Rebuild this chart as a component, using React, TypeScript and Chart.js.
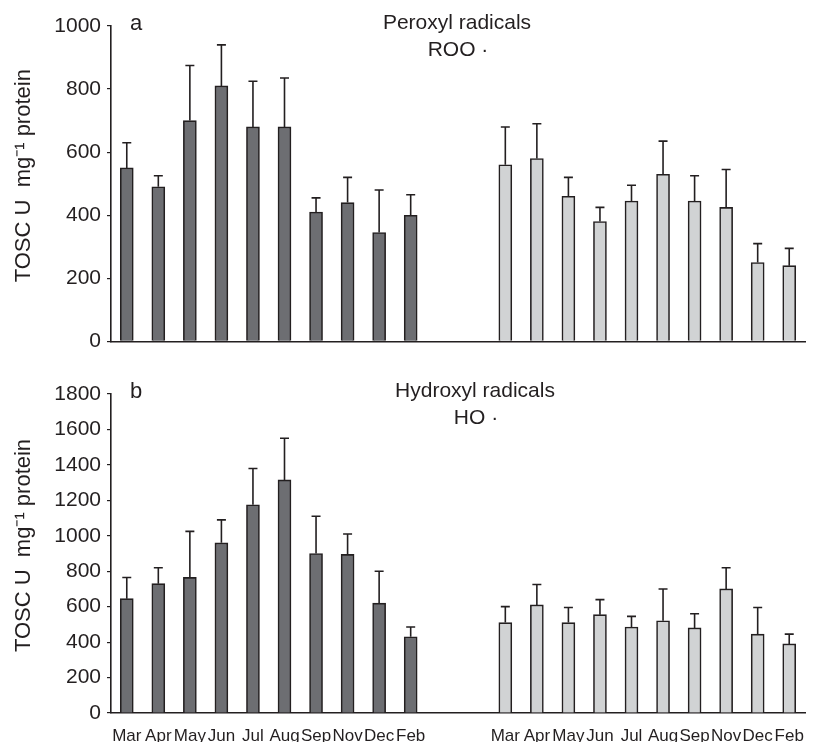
import React, { useEffect, useRef } from 'react';
import { Chart, registerables } from 'chart.js';

Chart.register(...registerables);

// ---- data ----
const MONTHS = ['Mar', 'Apr', 'May', 'Jun', 'Jul', 'Aug', 'Sep', 'Nov', 'Dec', 'Feb'];
const GAP = ['', ''];
const LABELS = [...MONTHS, ...GAP, ...MONTHS];

// Panel a: peroxyl radicals (ROO·)
const ROO_DARK = [550, 490, 700, 810, 680, 680, 410, 440, 345, 400];
const ROO_DARK_SD = [80, 35, 175, 130, 145, 155, 45, 80, 135, 65];
const ROO_LIGHT = [560, 580, 460, 380, 445, 530, 445, 425, 250, 240];
const ROO_LIGHT_SD = [120, 110, 60, 45, 50, 105, 80, 120, 60, 55];

// Panel b: hydroxyl radicals (HO·)
const HO_DARK = [645, 730, 765, 960, 1175, 1315, 900, 895, 620, 430];
const HO_DARK_SD = [120, 90, 260, 130, 205, 235, 210, 115, 180, 55];
const HO_LIGHT = [510, 610, 510, 555, 485, 520, 480, 700, 445, 390];
const HO_LIGHT_SD = [90, 115, 85, 85, 60, 180, 80, 120, 150, 55];

const Y_TITLE = 'TOSC U  mg\u207B\u00B9 protein';

const INK = '#231f20';
const DARK = '#6d6e72';
const LIGHT = '#d1d3d4';
const FONT = '"Liberation Sans", Arial, Helvetica, sans-serif';

const nulls = (n: number) => Array(n).fill(null);

const errorBarPlugin = {
  id: 'errorBars',
  afterDatasetsDraw(chart: any) {
    const ctx = chart.ctx;
    const yScale = chart.scales.y;
    ctx.save();
    ctx.strokeStyle = INK;
    ctx.lineWidth = 1.6;
    chart.data.datasets.forEach((ds: any, di: number) => {
      const meta = chart.getDatasetMeta(di);
      meta.data.forEach((el: any, i: number) => {
        const v = ds.data[i];
        const e = ds.errors ? ds.errors[i] : null;
        if (v == null || e == null) return;
        const yTop = yScale.getPixelForValue(v + e);
        const x = el.x;
        ctx.beginPath();
        ctx.moveTo(x, el.y);
        ctx.lineTo(x, yTop);
        ctx.moveTo(x - 4.5, yTop);
        ctx.lineTo(x + 4.5, yTop);
        ctx.stroke();
      });
    });
    ctx.restore();
  },
};

const annotPlugin = {
  id: 'annot',
  afterDraw(chart: any, _args: any, opts: any) {
    const { ctx, chartArea } = chart;
    ctx.save();
    ctx.fillStyle = INK;
    ctx.textBaseline = 'middle';
    ctx.font = `22px ${FONT}`;
    ctx.textAlign = 'center';
    ctx.fillText(opts.letter, chartArea.left + 25, chartArea.top - 2);
    ctx.font = `21px ${FONT}`;
    ctx.fillText(opts.line1, chartArea.left + opts.titleDx, chartArea.top - 3);
    ctx.fillText(opts.line2, chartArea.left + opts.titleDx + 1, chartArea.top + 24);
    // y-axis title
    ctx.translate(24, (chartArea.top + chartArea.bottom) / 2 - 8);
    ctx.rotate(-Math.PI / 2);
    ctx.font = `22px ${FONT}`;
    ctx.fillText(Y_TITLE, 0, 0);
    ctx.restore();
  },
};

type PanelProps = {
  height: number;
  dark: number[];
  darkSd: number[];
  light: number[];
  lightSd: number[];
  yMax: number;
  showX: boolean;
  padTop: number;
  letter: string;
  line1: string;
  line2: string;
  titleDx: number;
};

function Panel(p: PanelProps) {
  const ref = useRef<HTMLCanvasElement | null>(null);
  useEffect(() => {
    if (!ref.current) return;
    const chart = new Chart(ref.current, {
      type: 'bar',
      data: {
        labels: LABELS,
        datasets: [
          {
            data: [...p.dark, ...nulls(12)],
            errors: [...p.darkSd, ...nulls(12)],
            backgroundColor: DARK,
            borderColor: INK,
            borderWidth: 1.6,
            grouped: false,
            barThickness: 13,
          } as any,
          {
            data: [...nulls(12), ...p.light],
            errors: [...nulls(12), ...p.lightSd],
            backgroundColor: LIGHT,
            borderColor: INK,
            borderWidth: 1.6,
            grouped: false,
            barThickness: 13,
          } as any,
        ],
      },
      options: {
        responsive: false,
        animation: false,
        devicePixelRatio: 1,
        layout: { padding: { top: p.padTop, right: 25, left: 0, bottom: 0 } },
        plugins: {
          legend: { display: false },
          tooltip: { enabled: false },
          annot: { letter: p.letter, line1: p.line1, line2: p.line2, titleDx: p.titleDx },
        } as any,
        scales: {
          x: {
            grid: { display: false },
            border: { display: true, color: INK, width: 1.6 },
            ticks: {
              display: p.showX,
              color: INK,
              font: { family: FONT, size: 17 },
              padding: 5,
              maxRotation: 0,
              autoSkip: false,
            },
            afterFit: (s: any) => {
              s.height = p.showX ? 29 : 10;
            },
          },
          y: {
            min: 0,
            max: p.yMax,
            grid: {
              display: true,
              drawOnChartArea: false,
              drawTicks: true,
              tickLength: 4,
              color: INK,
              lineWidth: 1.2,
            },
            border: { display: true, color: INK, width: 1.6 },
            ticks: {
              stepSize: 200,
              color: INK,
              font: { family: FONT, size: 21 },
              padding: 6,
              callback: (v: any) => String(v),
            },
            afterFit: (s: any) => {
              s.width = 111;
            },
          },
        },
      },
      plugins: [errorBarPlugin, annotPlugin],
    });
    return () => chart.destroy();
  }, []);
  return <canvas ref={ref} width={830} height={p.height} style={{ display: 'block' }} />;
}

export default function App() {
  return (
    <div style={{ position: 'absolute', left: 0, top: 0, width: 830, height: 742, background: '#fff' }}>
      <Panel
        height={360}
        dark={ROO_DARK}
        darkSd={ROO_DARK_SD}
        light={ROO_LIGHT}
        lightSd={ROO_LIGHT_SD}
        yMax={1000}
        showX={false}
        padTop={26}
        letter="a"
        line1="Peroxyl radicals"
        line2={'ROO \u00B7'}
        titleDx={346}
      />
      <Panel
        height={382}
        dark={HO_DARK}
        darkSd={HO_DARK_SD}
        light={HO_LIGHT}
        lightSd={HO_LIGHT_SD}
        yMax={1800}
        showX={true}
        padTop={34}
        letter="b"
        line1="Hydroxyl radicals"
        line2={'HO \u00B7'}
        titleDx={364}
      />
    </div>
  );
}
